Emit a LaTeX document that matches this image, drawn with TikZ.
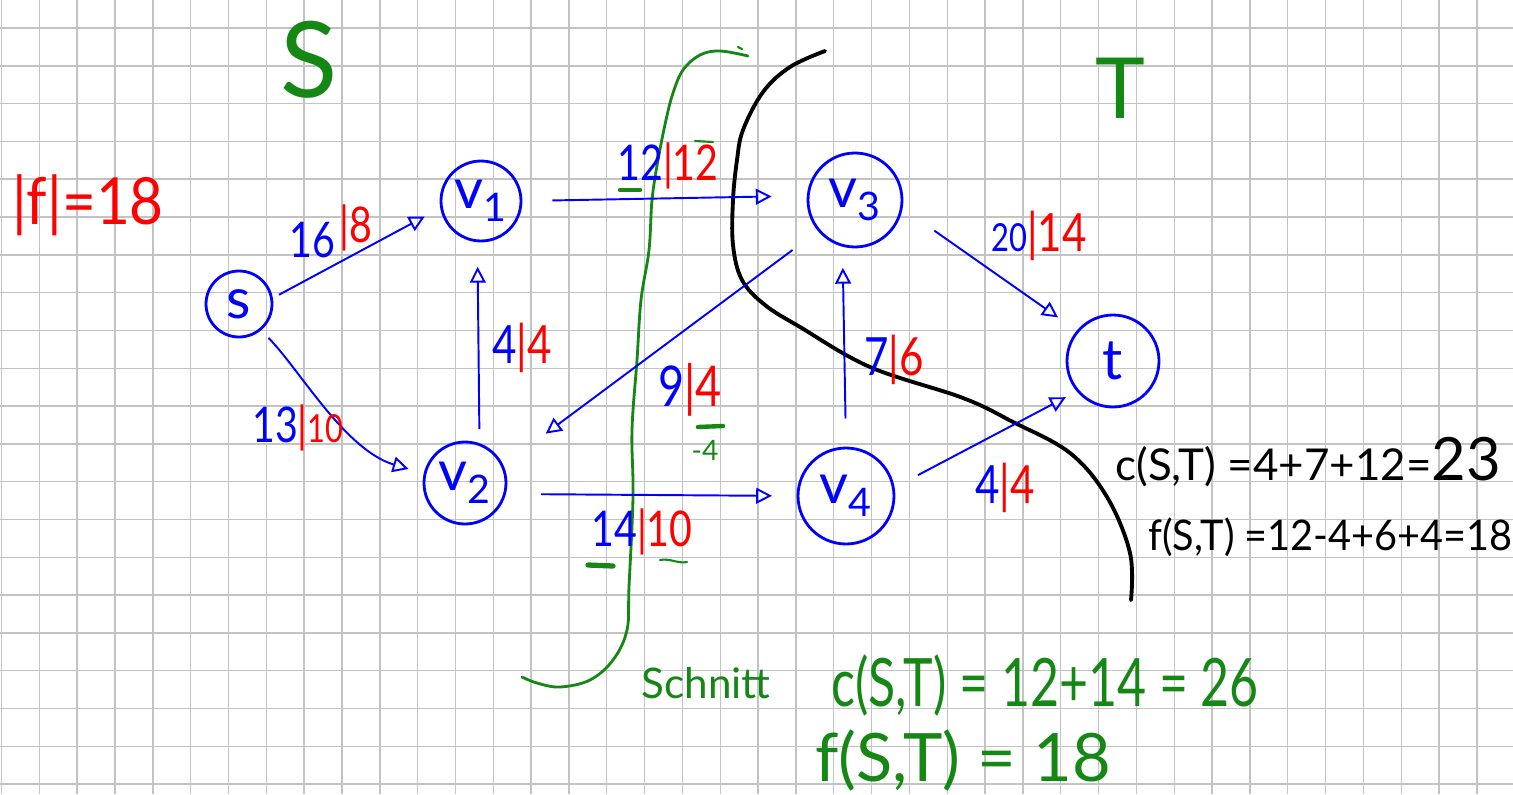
\documentclass[tikz,border=0pt]{standalone}
\usepackage{fontspec}
\setmainfont{Lato}
\usetikzlibrary{arrows.meta}
\definecolor{pblue}{RGB}{0,0,255}
\definecolor{pred}{RGB}{255,0,0}
\definecolor{pgreen}{RGB}{20,135,20}
\definecolor{gridc}{RGB}{195,195,195}
\newcommand\fsz[1]{\fontsize{#1}{#1}\selectfont}
\newcommand\hw[2][0.8]{\scalebox{#1}[1]{#2}}
\begin{document}
\begin{tikzpicture}[x=0.02cm,y=-0.02cm,
  vtx/.style={draw=pblue, circle, line width=1.6pt, text=pblue, inner sep=0pt},
  arc/.style={draw=pblue, line width=1.1pt, -{Triangle[open, length=9pt, width=9pt]}},
  lab/.style={inner sep=0pt},
  gtxt/.style={inner sep=0pt, text=pgreen},
  btxt/.style={inner sep=0pt, text=black},
  gmark/.style={draw=pgreen, line cap=round},
]
\useasboundingbox (0,0) rectangle (1513,794);
\fill[white] (0,0) rectangle (1513,794);
\foreach \i in {0,...,39} \draw[gridc, line width=0.8pt] ({1.5+37.83*\i},0) -- ({1.5+37.83*\i},794);
\foreach \j in {0,...,20} \draw[gridc, line width=0.8pt] (0,{28+37.8*\j}) -- (1513,{28+37.8*\j});

% cut curves
\draw[pgreen, line width=1.6pt, line cap=round] plot[smooth, tension=0.6] coordinates {(748,56) (720,51) (700,55) (683,70) (673,93) (666,120) (658,160) (652,200) (649,250) (641,300) (637,360) (632,430) (633,497) (629,587) (627,630) (613,660) (590,680) (560,687) (537,683) (522,677)};
\draw[pgreen, line width=1.2pt, line cap=round] (738,47) -- (742,49);
\draw[black, line width=2.2pt, line cap=round] plot[smooth, tension=0.6] coordinates {(825,51) (790,67) (763,92) (743,130) (737,160) (733,200) (733,245) (742,280) (765,305) (800,327) (870,367) (963,398) (1013,422) (1070,453) (1107,497) (1130,553) (1131,600)};

% vertices
\node[vtx, minimum size=1.32cm] (s) at (239,304) {\fsz{32}s};
\node[vtx, minimum size=1.6cm] (v1) at (481,201) {\fsz{32}v\textsubscript{1}};
\node[vtx, minimum size=1.64cm] (v2) at (465,483) {\fsz{32}v\textsubscript{2}};
\node[vtx, minimum size=1.88cm] (v3) at (855,200) {\fsz{32}v\textsubscript{3}};
\node[vtx, minimum size=1.92cm] (v4) at (846,496) {\fsz{32}v\textsubscript{4}};
\node[vtx, minimum size=1.84cm] (t) at (1113,361) {\fsz{32}t};

% edges
\draw[arc, shorten <=4pt, shorten >=10pt] (s.10) -- (v1.190);
\draw[arc, shorten <=6pt, shorten >=9pt] (s.-50) .. controls (300,370) and (345,450) .. (v2.167);
\draw[arc, shorten <=8pt, shorten >=14pt] (v2.70) -- (v1.-95);
\draw[arc, shorten <=17pt, shorten >=20pt] (v1.0) -- (v3.175);
\draw[arc, shorten <=18pt, shorten >=30pt] (v3.220) -- (v2.25);
\draw[arc, shorten <=20pt, shorten >=14pt] (v2.-15) -- (v4.180);
\draw[arc, shorten <=16pt, shorten >=12pt] (v4.90) -- (v3.-105);
\draw[arc, shorten <=22pt, shorten >=13pt] (v3.-10) -- (t.140);
\draw[arc, shorten <=15pt, shorten >=7pt] (v4.10) -- (t.-140);

% edge labels
\node[lab, text=pblue] (l1a) at (312,240) {\fsz{28}\hw{16}};
\node[lab, text=pred] (l1b) at (356,228) {\fsz{28}\hw{|8}};
\node[lab] (l2) at (298,428) {\fsz{28}\hw{\textcolor{pblue}{13}\textcolor{pred}{|{\fsz{22}10}}}};
\node[lab] (l3) at (522,348) {\fsz{30}\hw{\textcolor{pblue}{4}\textcolor{pred}{|4}}};
\node[lab] (l4) at (668,166) {\fsz{28}\hw{\textcolor{pblue}{12}\textcolor{pred}{|12}}};
\node[lab] (l5) at (690,390) {\fsz{32}\hw{\textcolor{pblue}{9}\textcolor{pred}{|4}}};
\node[lab] (l6) at (642,532) {\fsz{28}\hw{\textcolor{pblue}{14}\textcolor{pred}{|10}}};
\node[lab] (l7) at (894,360) {\fsz{30}\hw{\textcolor{pblue}{7}\textcolor{pred}{|6}}};
\node[lab] (l8) at (1039,236) {\hw{\textcolor{pblue}{\fsz{22}20}\textcolor{pred}{\fsz{30}|14}}};
\node[lab] (l9) at (1005,488) {\fsz{30}\hw{\textcolor{pblue}{4}\textcolor{pred}{|4}}};

% green marks
\draw[gmark, line width=2.5pt] (620,190) -- (640,190);
\draw[gmark, line width=1.2pt] (695,141) -- (713,142);
\draw[gmark, line width=2.5pt] (698,427) -- (723,426);
\node[gtxt] (m4) at (705,450) {\fsz{16}-4};
\draw[gmark, line width=3pt] (588,565) -- (613,566);
\draw[gmark, line width=1.2pt] (660,560) .. controls (670,558) and (678,564) .. (687,562);

% big labels
\node[gtxt] (S) at (309,60) {\fsz{60}S};
\node[gtxt] (T) at (1120,88) {\fsz{48}T};
\node[lab, text=pred] (f) at (88,205) {\fsz{37}\hw[0.9]{|f|=18}};

\node[btxt, anchor=west] (c1) at (1115,462) {\fsz{25}\hw[1.0]{c(S,T) =4+7+12={\fsz{34}23}}};
\node[btxt, anchor=west] (c2) at (1148,537) {\fsz{24}\hw[0.94]{f(S,T) =12-4+6+4=18}};

\node[gtxt] (sch) at (706,683) {\fsz{24}\hw[1.0]{Schnitt}};
\node[gtxt] (c3) at (1045,685) {\fsz{38}\hw[0.75]{c(S,T) = 12+14 = 26}};
\node[gtxt, anchor=west] (c4) at (815,760) {\fsz{38}\hw[1.0]{f(S,T) = 18}};
\end{tikzpicture}
\end{document}
